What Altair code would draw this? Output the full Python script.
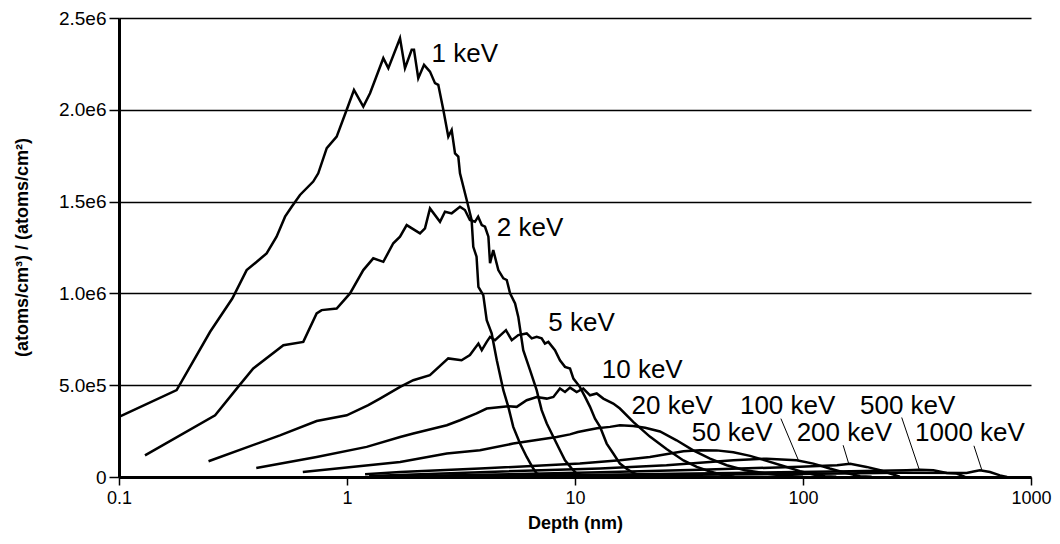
import altair as alt
import pandas as pd

# ---- data (depth in nm, concentration in k (atoms/cm3)/(atoms/cm2)) ----
depth_1 = [0.1, 0.179, 0.201, 0.251, 0.314, 0.363, 0.402, 0.444, 0.491, 0.535, 0.572, 0.622, 0.711, 0.748,
           0.815, 0.901, 0.997, 1.073, 1.179, 1.262, 1.443, 1.518, 1.708, 1.796, 1.922, 1.967, 2.054, 2.177,
           2.312, 2.432, 2.514, 2.645, 2.782, 2.878, 2.977, 3.077, 3.13, 3.35, 3.52, 3.58, 3.70, 3.77, 3.96,
           4.10, 4.31, 4.54, 4.85, 5.10, 5.36, 5.74, 6.14, 6.56, 6.79, 7.38]
conc_1 = [327, 473, 582, 791, 972, 1127, 1172, 1218, 1309, 1418, 1472, 1536, 1609, 1654,
          1791, 1854, 2000, 2108, 2017, 2090, 2281, 2227, 2390, 2227, 2327, 2327, 2172, 2245,
          2208, 2145, 2136, 2000, 1854, 1890, 1763, 1745, 1654, 1509, 1400, 1254, 1200, 1036, 991,
          854, 782, 636, 473, 382, 273, 182, 109, 46, 19, 3]

depth_2 = [0.13, 0.264, 0.333, 0.388, 0.526, 0.643, 0.736, 0.774, 0.901, 1.031, 1.179, 1.304, 1.443, 1.596,
           1.708, 1.827, 2.09, 2.198, 2.312, 2.558, 2.69, 2.878, 3.13, 3.29, 3.46, 3.64, 3.76, 3.90, 4.03,
           4.17, 4.24, 4.38, 4.61, 4.85, 5.02, 5.19, 5.46, 5.64, 5.93, 6.35, 6.79, 7.14, 7.52, 8.04, 8.59,
           9.04, 9.68, 10.17, 11.07]
conc_2 = [118, 336, 491, 591, 718, 736, 891, 909, 918, 1000, 1127, 1191, 1172, 1273,
          1309, 1372, 1327, 1354, 1463, 1390, 1445, 1436, 1472, 1454, 1400, 1390, 1418, 1372, 1363,
          1309, 1164, 1236, 1127, 1082, 1073, 1000, 945, 872, 691, 582, 473, 364, 291, 218, 146,
          91, 46, 19, 3]

depth_5 = [0.247, 0.508, 0.736, 0.997, 1.24, 1.395, 1.71, 1.953, 2.31, 2.78, 3.18, 3.46, 3.77, 3.90,
           4.10, 4.24, 4.46, 4.98, 5.28, 5.64, 6.14, 6.46, 6.79, 7.14, 7.38, 7.64, 8.17, 8.59, 9.04,
           9.51, 9.84, 10.5, 11.07, 11.64, 12.24, 12.88, 13.77, 14.72, 15.74, 16.85, 18.0, 19.3, 20.7]
conc_5 = [86, 227, 305, 336, 391, 427, 491, 527, 555, 646, 636, 664, 727, 691,
          736, 763, 745, 800, 745, 773, 782, 755, 763, 755, 727, 736, 691, 636, 600,
          591, 536, 491, 436, 382, 318, 273, 182, 128, 73, 45, 22, 9, 1]

depth_10 = [0.40, 0.736, 1.22, 1.71, 1.953, 2.74, 3.13, 3.70, 4.10, 5.10, 5.55, 6.14, 6.79, 7.52, 8.04,
            8.59, 9.04, 9.51, 10.17, 10.87, 11.64, 12.45, 13.31, 14.72, 15.74, 18.0, 21.3, 25.2, 29.9,
            34.2, 39.1, 44.0, 50.0]
conc_10 = [49, 109, 164, 218, 237, 282, 309, 346, 373, 385, 382, 418, 436, 427, 436,
           482, 463, 487, 463, 482, 445, 455, 427, 400, 373, 300, 220, 152, 90,
           55, 30, 12, 1]

depth_20 = [0.64, 1.71, 2.74, 3.83, 5.36, 8.31, 9.5, 10.3, 11.25, 12.5, 14.24, 15.74, 18.0, 20.3, 23.6,
            27.9, 33.0, 39.1, 46.3, 55.7, 70.0, 85.0, 100.0]
conc_20 = [27, 82, 128, 146, 182, 218, 232, 245, 255, 266, 273, 282, 278, 268, 248,
           200, 145, 100, 64, 37, 18, 6, 1]

depth_50 = [1.2, 1.71, 3.83, 10.5, 15.74, 21.3, 29.9, 35.3, 41.8, 49.5, 58.6, 69.3, 82.0, 97.0, 111, 125, 140]
conc_50 = [15, 27, 46, 73, 91, 109, 140, 146, 145, 135, 115, 88, 60, 32, 14, 4, 1]

depth_100 = [1.25, 3.83, 12.88, 25.2, 49.5, 69.3, 93.8, 111, 131, 150, 178, 200]
conc_100 = [5, 26, 46, 64, 91, 100, 91, 73, 46, 26, 4, 1]

depth_200 = [1.3, 3.83, 12.88, 35.3, 97, 141, 161, 190, 218, 241, 266]
conc_200 = [2, 12, 26, 39, 56, 64, 72, 55, 37, 19, 2]

depth_500 = [1.3, 12.88, 58.6, 161, 285, 326, 373, 427, 472, 514]
conc_500 = [1, 12, 23, 31, 37, 40, 37, 22, 19, 1]

depth_1000 = [1.3, 12.88, 97, 266, 522, 560, 597, 661, 731, 785]
conc_1000 = [1, 8, 17, 23, 22, 30, 37, 27, 9, 0]

series_names = ["1 keV", "2 keV", "5 keV", "10 keV", "20 keV", "50 keV",
                "100 keV", "200 keV", "500 keV", "1000 keV"]
series_depths = [depth_1, depth_2, depth_5, depth_10, depth_20, depth_50,
                 depth_100, depth_200, depth_500, depth_1000]
series_concs = [conc_1, conc_2, conc_5, conc_10, conc_20, conc_50,
                conc_100, conc_200, conc_500, conc_1000]

# curve labels (left edge position)
label_text = ["1 keV", "2 keV", "5 keV", "10 keV", "20 keV", "100 keV", "500 keV",
              "50 keV", "200 keV", "1000 keV"]
label_depth = [2.35, 4.54, 7.64, 13.1, 17.7, 52.9, 177.8, 32.5, 93.8, 309.9]
label_conc = [2305e3, 1354e3, 841e3, 582e3, 387e3, 387e3, 387e3, 237e3, 237e3, 237e3]

# leader lines from labels to curves
leader_x1 = [80, 150, 271, 562]
leader_y1 = [318e3, 173e3, 324e3, 170e3]
leader_x2 = [95.5, 159, 323.6, 609]
leader_y2 = [91e3, 69e3, 40e3, 37e3]

x_ticks = [0.1, 1, 10, 100, 1000]
y_ticks = [0, 5e5, 1e6, 1.5e6, 2e6, 2.5e6]

# ---- tables ----
rows = []
for name, ds, cs in zip(series_names, series_depths, series_concs):
    for i, (d, c) in enumerate(zip(ds, cs)):
        rows.append({"series": name, "depth": d, "conc": c * 1000.0, "idx": i})
df = pd.DataFrame(rows)
labels_df = pd.DataFrame({"text": label_text, "depth": label_depth, "conc": label_conc})
leaders_df = pd.DataFrame({"x1": leader_x1, "y1": leader_y1, "x2": leader_x2, "y2": leader_y2})

FONT = "Liberation Sans"
xscale = alt.Scale(type="log", domain=[0.1, 1000], nice=False)
yscale = alt.Scale(domain=[0, 2.5e6], nice=False)

x_axis = alt.Axis(values=x_ticks, format="~g", grid=False, labelFlush=False,
                  domainColor="black", domainWidth=3, tickColor="black", tickWidth=1.5,
                  tickSize=8, labelPadding=4, labelFontSize=18, labelFont=FONT,
                  labelColor="black", titleFont=FONT, titleFontSize=18, titleFontWeight="bold",
                  titleColor="black", titleX=456, titleY=46, titleAlign="center",
                  titleBaseline="middle")
y_axis = alt.Axis(values=y_ticks,
                  labelExpr="datum.value == 0 ? '0' : replace(format(datum.value, '.1e'), '+', '')",
                  grid=True, gridColor="black", gridWidth=1.5, gridOpacity=1,
                  domainColor="black", domainWidth=3, tickColor="black", tickWidth=1.5,
                  tickSize=10, labelPadding=3, labelFontSize=19, labelFont=FONT,
                  labelColor="black", titleFont=FONT, titleFontSize=18, titleFontWeight="bold",
                  titleColor="black", titleX=-97, titleY=229, titleAlign="center",
                  titleBaseline="middle", titleAngle=270)

lines = alt.Chart(df).mark_line(color="black", strokeWidth=2.5).encode(
    x=alt.X("depth:Q", scale=xscale, axis=x_axis, title="Depth (nm)"),
    y=alt.Y("conc:Q", scale=yscale, axis=y_axis,
            title="(atoms/cm³) / (atoms/cm²)"),
    detail="series:N",
    order="idx:Q",
)

texts = alt.Chart(labels_df).mark_text(align="left", baseline="middle", fontSize=26,
                                       font=FONT, color="black").encode(
    x=alt.X("depth:Q", scale=xscale),
    y=alt.Y("conc:Q", scale=yscale),
    text="text:N",
)

leaders = alt.Chart(leaders_df).mark_rule(color="black", strokeWidth=1).encode(
    x=alt.X("x1:Q", scale=xscale),
    y=alt.Y("y1:Q", scale=yscale),
    x2="x2:Q",
    y2="y2:Q",
)

chart = alt.layer(lines, leaders, texts).properties(
    width=912, height=459,
    autosize=alt.AutoSizeParams(type="none"),
    padding={"left": 111, "top": 10, "right": 21, "bottom": 60},
    background="white",
).configure_view(stroke="transparent")

chart.save("out.html", embed_options={"renderer": "svg", "actions": False})
